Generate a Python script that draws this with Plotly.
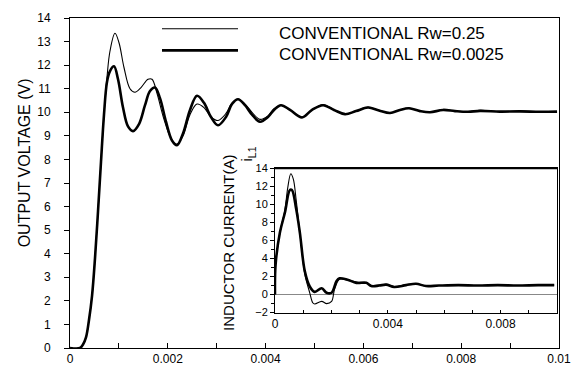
import plotly.graph_objects as go

# ---------------- main chart data: output voltage (V) vs time (s) ----------------
t_thin = [0, 0.000204, 0.000266, 0.000327, 0.000389, 0.00045, 0.000511, 0.000573, 0.000634,
          0.000695, 0.000757, 0.000818, 0.00092, 0.001002, 0.001104, 0.001227, 0.001329,
          0.001452, 0.001595, 0.001677, 0.001779, 0.001922, 0.002065, 0.002188, 0.002311,
          0.002454, 0.002597, 0.00274, 0.002883, 0.003027, 0.00319, 0.003313, 0.003436,
          0.003579, 0.003722, 0.003885, 0.004049, 0.004172, 0.004315, 0.004499, 0.004744,
          0.004949, 0.005174, 0.005399, 0.005624, 0.005849, 0.006094, 0.006319, 0.006544,
          0.006748, 0.006933, 0.007157, 0.007362, 0.007628, 0.007873, 0.008139, 0.008384,
          0.008793, 0.009202, 0.009611, 0.00996]
v_thin = [0, 0, 0.15, 0.45, 1.2, 2.2, 3.8, 5.8, 7.9,
          9.9, 11.5, 12.6, 13.35, 12.95, 11.9, 11.0, 10.85,
          11.05, 11.4, 11.4, 10.8, 9.7, 8.9, 8.65, 9.0,
          9.9, 10.35, 10.2, 9.8, 9.65, 9.95, 10.4, 10.55,
          10.35, 10.0, 9.7, 9.85, 10.15, 10.3, 10.1, 9.8,
          10.1, 10.33, 10.1, 9.92, 10.05, 10.22, 10.08, 9.97,
          10.1, 10.18, 10.05, 10.0, 10.12, 10.05, 10.02, 10.08,
          10.03, 10.05, 10.02, 10.03]

t_thick = [0, 0.000204, 0.000266, 0.000327, 0.000389, 0.00045, 0.000511, 0.000573, 0.000634,
           0.000695, 0.000757, 0.000818, 0.0009, 0.000982, 0.001084, 0.001186, 0.001288,
           0.001411, 0.001534, 0.001636, 0.001738, 0.00184, 0.001963, 0.002086, 0.002188,
           0.002311, 0.002454, 0.002597, 0.00274, 0.002883, 0.003027, 0.00319, 0.003313,
           0.003436, 0.003579, 0.003722, 0.003885, 0.004049, 0.004172, 0.004315, 0.004499,
           0.004744, 0.004949, 0.005174, 0.005399, 0.005624, 0.005849, 0.006094, 0.006319,
           0.006544, 0.006748, 0.006933, 0.007157, 0.007362, 0.007628, 0.007873, 0.008139,
           0.008384, 0.008793, 0.009202, 0.009611, 0.00996]
v_thick = [0, 0, 0.15, 0.45, 1.2, 2.2, 3.8, 5.8, 7.9,
           9.9, 11.3, 11.75, 11.95, 11.4, 10.2, 9.4, 9.2,
           9.5, 10.3, 10.9, 11.05, 10.6, 9.6, 8.8, 8.6,
           9.1, 10.1, 10.7, 10.4, 9.8, 9.45, 9.8, 10.35,
           10.55, 10.3, 9.9, 9.6, 9.8, 10.1, 10.3, 10.1,
           9.78, 10.1, 10.3, 10.1, 9.92, 10.05, 10.2, 10.08,
           9.97, 10.1, 10.17, 10.05, 10.0, 10.1, 10.05, 10.02,
           10.06, 10.03, 10.04, 10.02, 10.03]

# ---------------- inset data: inductor current (A) vs time (s) ----------------
ti_thin = [0, 0.00002, 0.000176, 0.000352, 0.00045, 0.00056, 0.00065, 0.00075, 0.00088,
           0.001056, 0.001232, 0.001338, 0.001408, 0.001655, 0.001831, 0.002007, 0.002113,
           0.002289, 0.00257, 0.002887, 0.003239, 0.003415, 0.003697, 0.003944, 0.004225,
           0.004648, 0.005, 0.005352, 0.00581, 0.0065, 0.0072, 0.0079, 0.0086, 0.00933, 0.0099]
i_thin = [0, 3.3, 6.9, 9.4, 11.8, 13.4, 12.8, 10.5, 6.9,
          2.3, 0.2, -0.9, -1.05, -0.75, -1.0, -0.75, 0.6,
          1.7, 1.6, 1.4, 1.3, 1.0, 1.05, 1.15, 0.9,
          1.1, 1.2, 0.95, 1.0, 1.05, 1.0, 1.05, 1.0, 1.05, 1.05]

ti_thick = [0, 0.00002, 0.000176, 0.000352, 0.000528, 0.0006, 0.00075, 0.00088,
            0.001056, 0.001232, 0.001408, 0.001655, 0.001831, 0.002007, 0.002183,
            0.002289, 0.00257, 0.002887, 0.003239, 0.003415, 0.003697, 0.003944, 0.004225,
            0.004648, 0.005, 0.005352, 0.00581, 0.0065, 0.0072, 0.0079, 0.0086, 0.00933, 0.0099]
i_thick = [0, 3.3, 6.9, 9.1, 11.6, 11.6, 9.5, 6.9,
           2.6, 0.9, 0.3, 0.7, 0.2, 0.2, 1.5,
           1.8, 1.65, 1.3, 1.3, 0.95, 1.0, 1.1, 0.85,
           1.05, 1.2, 0.95, 1.0, 1.05, 1.0, 1.05, 1.0, 1.05, 1.05]

legend_labels = ["CONVENTIONAL Rw=0.25", "CONVENTIONAL Rw=0.0025"]
main_xticks = [0, 0.002, 0.004, 0.006, 0.008, 0.01]
main_xticklabels = ["0", "0.002", "0.004", "0.006", "0.008", "0.01"]
inset_xticks = [0, 0.004, 0.008]
inset_xticklabels = ["0", "0.004", "0.008"]

# page has an 8px body margin: the figure is drawn 8px in from the window corner
OFF = 8
W, H = 580 - OFF, 373 - OFF
L, R, T, B = 70, 559, 12, 348   # plot-area box in window pixels


def px(x):
    return (x - L) / (R - L)


def py(y):
    return (B - y) / (B - T)


FONT = "Arial, Liberation Sans, Helvetica, sans-serif"

fig = go.Figure()
fig.add_trace(go.Scatter(x=t_thin, y=v_thin, mode="lines", line=dict(color="black", width=1.1),
                         line_shape="spline", showlegend=False, xaxis="x", yaxis="y"))
fig.add_trace(go.Scatter(x=t_thick, y=v_thick, mode="lines", line=dict(color="black", width=2.6),
                         line_shape="spline", showlegend=False, xaxis="x", yaxis="y"))
fig.add_trace(go.Scatter(x=ti_thin, y=i_thin, mode="lines", line=dict(color="black", width=1.1),
                         line_shape="spline", showlegend=False, xaxis="x2", yaxis="y2"))
fig.add_trace(go.Scatter(x=ti_thick, y=i_thick, mode="lines", line=dict(color="black", width=2.6),
                         line_shape="spline", showlegend=False, xaxis="x2", yaxis="y2"))

ix0, ix1 = px(275), px(557)
iy0, iy1 = py(312), py(165)

shapes = [
    dict(type="rect", xref="paper", yref="paper", x0=ix0, x1=ix1, y0=iy0, y1=iy1,
         fillcolor="white", line=dict(width=0), layer="below"),
    dict(type="line", xref="paper", yref="paper", x0=px(162), x1=px(238), y0=py(23), y1=py(23),
         line=dict(color="black", width=1.1)),
    dict(type="line", xref="paper", yref="paper", x0=px(162), x1=px(238), y0=py(45), y1=py(45),
         line=dict(color="black", width=2.6)),
    dict(type="line", xref="paper", yref="paper", x0=ix0, x1=ix1, y0=iy1, y1=iy1,
         line=dict(color="black", width=2)),
]

annotations = [
    dict(text=legend_labels[0], x=px(277), y=py(28), xref="paper", yref="paper",
         xanchor="left", yanchor="middle", showarrow=False, font=dict(family=FONT, size=17, color="black")),
    dict(text=legend_labels[1], x=px(277), y=py(49), xref="paper", yref="paper",
         xanchor="left", yanchor="middle", showarrow=False, font=dict(family=FONT, size=17, color="black")),
    dict(text="OUTPUT VOLTAGE (V)", x=px(24), y=py(160), xref="paper", yref="paper",
         textangle=-90, xanchor="center", yanchor="middle", showarrow=False,
         font=dict(family=FONT, size=16, color="black")),
    dict(text="INDUCTOR CURRENT(A)", x=px(229), y=py(241), xref="paper", yref="paper",
         textangle=-90, xanchor="center", yanchor="middle", showarrow=False,
         font=dict(family=FONT, size=15, color="black")),
    dict(text="i<sub>L1</sub>", x=px(248), y=py(151), xref="paper", yref="paper",
         textangle=-90, xanchor="center", yanchor="middle", showarrow=False,
         font=dict(family=FONT, size=15, color="black")),
]

fig.update_layout(
    width=W, height=H,
    margin=dict(l=L - OFF, r=W - (R - OFF), t=T - OFF, b=H - (B - OFF), pad=0),
    paper_bgcolor="white", plot_bgcolor="white",
    font=dict(family=FONT, color="black"),
    shapes=shapes, annotations=annotations,
    xaxis=dict(domain=[0, 1], range=[0, 0.01], tickvals=main_xticks, ticktext=main_xticklabels,
               ticks="inside", ticklen=5, tickcolor="black", showline=True, linecolor="black",
               linewidth=1, mirror=True, showgrid=False, zeroline=False,
               tickfont=dict(size=12, family=FONT, color="black"),
               minor=dict(dtick=0.001, ticks="inside", ticklen=5, tickcolor="black")),
    yaxis=dict(domain=[0, 1], range=[0, 14], dtick=1, ticks="outside", ticklen=5, tickcolor="black",
               showline=True, linecolor="black", linewidth=1, mirror=True, showgrid=False,
               zeroline=False, ticklabelstandoff=11,
               tickfont=dict(size=12, family=FONT, color="black")),
    xaxis2=dict(domain=[ix0, ix1], anchor="y2", range=[0, 0.01], tickvals=inset_xticks,
                ticktext=inset_xticklabels, ticks="inside", ticklen=3, tickcolor="black",
                showline=True, linecolor="black", linewidth=1, mirror=True, showgrid=False,
                zeroline=False, tickfont=dict(size=12, family=FONT, color="black"),
                minor=dict(dtick=0.001, ticks="inside", ticklen=3, tickcolor="black")),
    yaxis2=dict(domain=[iy0, iy1], anchor="x2", range=[-2, 14], dtick=2, ticks="outside",
                ticklen=4, tickcolor="black", showline=True, linecolor="black", linewidth=1,
                mirror=True, showgrid=False, zeroline=True, zerolinecolor="#888888",
                zerolinewidth=1, tickfont=dict(size=11, family=FONT, color="black"),
                minor=dict(dtick=1, ticks="outside", ticklen=3, tickcolor="black")),
)

fig.write_html("out.html")
